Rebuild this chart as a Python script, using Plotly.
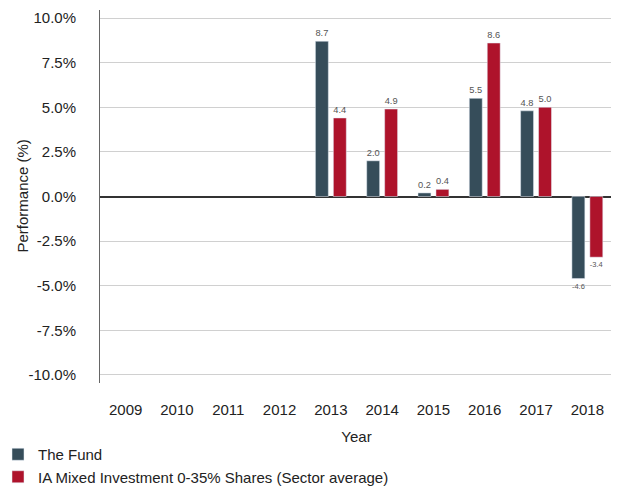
import plotly.graph_objects as go

years = ["2009", "2010", "2011", "2012", "2013", "2014", "2015", "2016", "2017", "2018"]
fund = [None, None, None, None, 8.7, 2.0, 0.2, 5.5, 4.8, -4.6]
sector = [None, None, None, None, 4.4, 4.9, 0.4, 8.6, 5.0, -3.4]
tick_vals = [-10, -7.5, -5, -2.5, 0, 2.5, 5, 7.5, 10]
tick_text = ["-10.0%", "-7.5%", "-5.0%", "-2.5%", "0.0%", "2.5%", "5.0%", "7.5%", "10.0%"]

FONT = "Liberation Sans, Arial, sans-serif"
W, H = 611, 478  # page body has an 8px margin
L, T, PW, PH = 92, 2, 513, 373

def labels(vals):
    return ["" if v is None else f"{v:.1f}" for v in vals]

fig = go.Figure()
fig.add_trace(go.Bar(
    x=years, y=fund, name="The Fund", marker_color="#364D5A",
    text=labels(fund), textposition="outside", cliponaxis=False,
    textfont=dict(size=9.5, color="#555555", family=FONT),
))
fig.add_trace(go.Bar(
    x=years, y=sector, name="IA Mixed Investment 0-35% Shares (Sector average)",
    marker_color="#AE132B",
    text=labels(sector), textposition="outside", cliponaxis=False,
    textfont=dict(size=9.5, color="#555555", family=FONT),
))

fig.update_layout(
    width=W, height=H,
    margin=dict(l=L, r=W - L - PW, t=T, b=H - T - PH, autoexpand=False),
    paper_bgcolor="white", plot_bgcolor="white",
    font=dict(family=FONT, size=15, color="#222222"),
    barmode="group", bargap=0.3, bargroupgap=0.28,
    showlegend=True,
    legend=dict(
        orientation="v", xref="paper", yref="paper",
        x=(-10 - L) / PW, y=1 - (430 - T) / PH, xanchor="left", yanchor="top",
        font=dict(size=15, color="#222222"),
        tracegroupgap=0, itemwidth=30,
        bgcolor="rgba(0,0,0,0)",
    ),
    annotations=[dict(
        text="Performance (%)", textangle=-90, showarrow=False,
        xref="paper", yref="paper", x=(14 - L) / PW, y=0.5,
        xanchor="center", yanchor="middle",
        font=dict(size=15, color="#222222", family=FONT),
    )],
)
fig.update_xaxes(
    type="category", categoryorder="array", categoryarray=years,
    showgrid=False, showline=False, ticks="", tickangle=0,
    ticklabelstandoff=16,
    title=dict(text="Year", standoff=14, font=dict(size=15)),
    tickfont=dict(size=15),
)
fig.update_yaxes(
    range=[-10.45, 10.45], tickvals=tick_vals, ticktext=tick_text,
    showgrid=True, gridcolor="#D0D0D0", gridwidth=1,
    zeroline=True, zerolinecolor="#333333", zerolinewidth=2,
    showline=True, linecolor="#666666", linewidth=1,
    ticks="", ticklabelstandoff=20,
    tickfont=dict(size=15),
)

fig.write_html("out.html")
